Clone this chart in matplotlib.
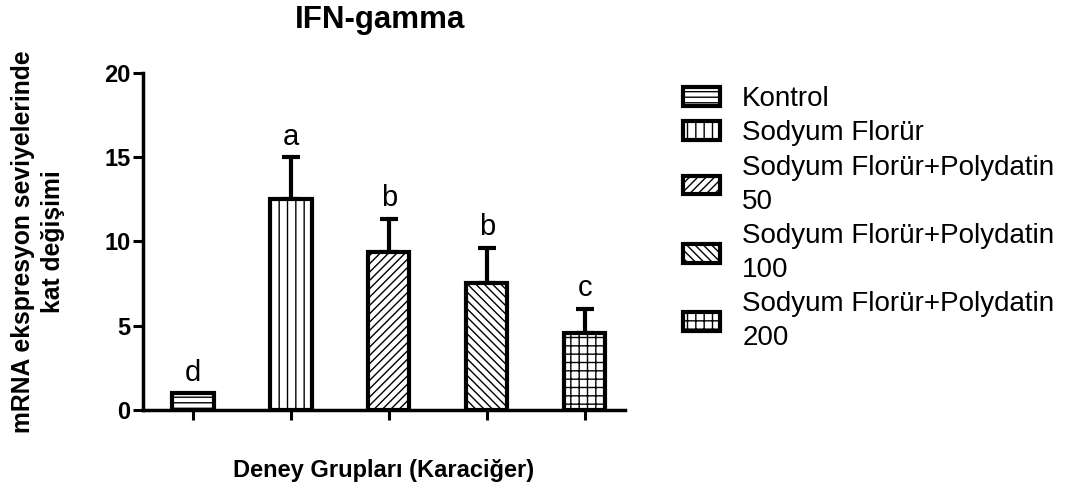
import matplotlib
matplotlib.use("Agg")
import matplotlib.pyplot as plt
import numpy as np

plt.rcParams['font.family'] = ['Liberation Sans', 'DejaVu Sans']
plt.rcParams['hatch.linewidth'] = 1.0

groups = ["Kontrol", "Sodyum Florür", "Sodyum Florür+Polydatin\n50",
          "Sodyum Florür+Polydatin\n100", "Sodyum Florür+Polydatin\n200"]
means = [1.0, 12.5, 9.35, 7.55, 4.55]
errors = [0.0, 2.5, 2.0, 2.08, 1.45]
letters = ["d", "a", "b", "b", "c"]
hatches = ["---", "||", "////", "\\\\\\\\", "++"]
yticks = [0, 5, 10, 15, 20]

fig = plt.figure(figsize=(10.68, 5.01), dpi=100)
ax = fig.add_axes([143/1068, 1-410/501, (625-143)/1068, (410-72.7)/501])

x = np.arange(len(groups))
handles = []
for i in range(len(groups)):
    b = ax.bar(x[i], means[i], width=0.42, color="white", edgecolor="black",
               linewidth=3, hatch=hatches[i], label=groups[i], zorder=3)
    handles.append(b)
    if errors[i] > 0:
        ax.errorbar(x[i], means[i], yerr=[[0], [errors[i]]], fmt="none",
                    ecolor="black", elinewidth=3, capsize=6.5, capthick=3, zorder=2)
    top = means[i] + errors[i]
    ax.annotate(letters[i], (x[i], top), xytext=(0, 9), textcoords="offset points",
                ha="center", va="baseline", fontsize=21)

ax.set_xlim(-0.51, 4.41)
ax.set_ylim(0, 20)
ax.set_yticks(yticks)
ax.set_yticklabels([str(t) for t in yticks], fontsize=17, fontweight="bold")
ax.set_xticks(x)
ax.set_xticklabels([])
ax.tick_params(axis="both", direction="out", length=7, width=2.2, pad=2)
for s in ["top", "right"]:
    ax.spines[s].set_visible(False)
for s in ["left", "bottom"]:
    ax.spines[s].set_linewidth(2.5)

fig.text(380/1068, 1-28/501, "IFN-gamma", fontsize=22.5, fontweight="bold",
         ha="center", va="baseline")
fig.text(384/1068, 1-470/501, "Deney Grupları (Karaciğer)", fontsize=17,
         fontweight="bold", ha="center", va="center")
fig.text(38/1068, 1-242/501, "mRNA ekspresyon seviyelerinde\nkat değişimi",
         fontsize=17.8, fontweight="bold", rotation=90, ha="center", va="center",
         multialignment="center", linespacing=1.3)

leg = ax.legend(handles=handles, loc="upper left", bbox_to_anchor=(683/1068, 1-86/501),
                bbox_transform=fig.transFigure, frameon=False, fontsize=20,
                handlelength=1.33, handleheight=0.65, handletextpad=0.8,
                labelspacing=0.3, borderpad=0, borderaxespad=0)
for t in leg.get_texts():
    t.set_linespacing(1.4)

fig.savefig("out.png", dpi=100)
